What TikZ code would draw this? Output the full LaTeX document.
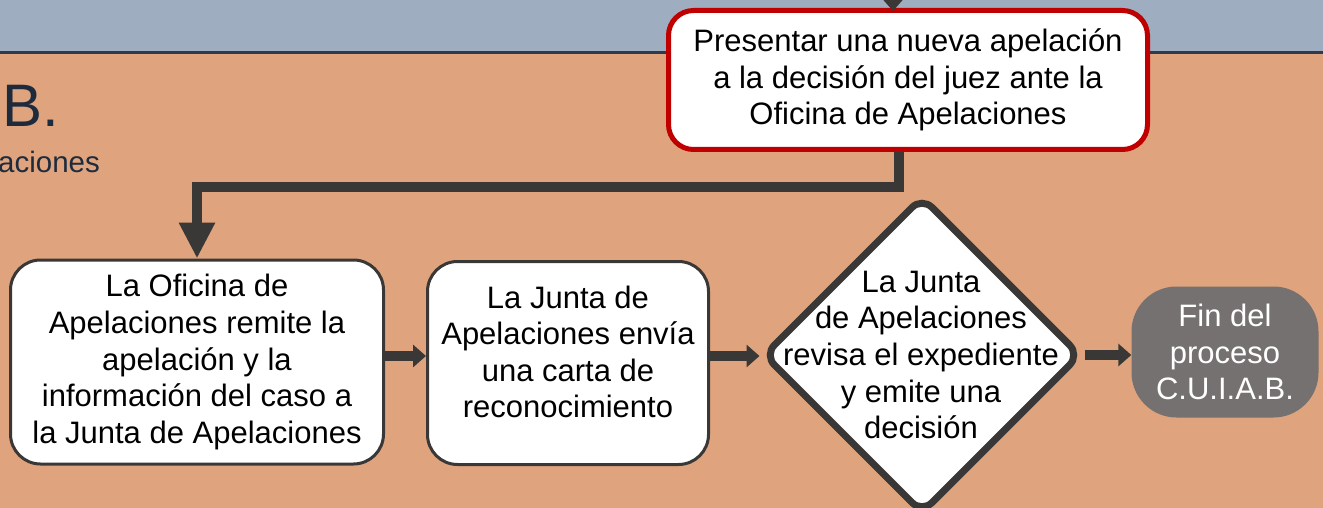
\documentclass[tikz,border=0pt]{standalone}
\usepackage{fontspec}
\setmainfont{Liberation Sans}
\usetikzlibrary{arrows.meta,shapes.geometric}

\definecolor{bandblue}{HTML}{9EADC0}
\definecolor{bandline}{HTML}{2F3B4C}
\definecolor{lanebg}{HTML}{DFA47E}
\definecolor{titletext}{HTML}{1E2B3C}
\definecolor{flowgrey}{HTML}{3A3836}
\definecolor{alertred}{HTML}{C00000}
\definecolor{endgrey}{HTML}{757170}

\newcommand{\boxfont}{\fontsize{31}{36.6}\selectfont}

\begin{document}
\begin{tikzpicture}[x=1pt,y=-1pt,
    box/.style={draw=flowgrey,line width=3pt,fill=white,rounded corners=30pt,
      align=center,font=\boxfont,inner sep=0pt},
    redbox/.style={box,draw=alertred,line width=5pt,rounded corners=25pt},
    decision/.style={diamond,draw=flowgrey,line width=7pt,fill=white,
      rounded corners=14pt,minimum width=318pt,minimum height=318pt,inner sep=0pt},
    endbox/.style={fill=endgrey,rounded corners=45pt,text=white,align=center,
      font=\boxfont,minimum width=187pt,minimum height=131pt,inner sep=0pt},
    smallflow/.style={draw=flowgrey,line width=10pt,-{Triangle[width=22pt,length=13pt]}},
    bigflow/.style={draw=flowgrey,line width=10pt,-{Triangle[width=34pt,length=36pt]}}]
  \useasboundingbox (0,0) rectangle (1323,508);

  % background lanes
  \fill[lanebg] (0,52) rectangle (1323,508);
  \fill[bandblue] (0,0) rectangle (1323,52);
  \draw[bandline,line width=3pt] (0,53) -- (1323,53);

  \node[anchor=base west,inner sep=0pt,text=titletext,font=\fontsize{60}{60}\selectfont] (lanetitle) at (2,127) {B.};
  \node[anchor=base west,inner sep=0pt,text=titletext,font=\fontsize{29.5}{30}\selectfont] (lanesub) at (-2,172) {aciones};

  % steps
  \coordinate (fromabove) at (893,-30);
  \node[redbox,minimum width=479pt,minimum height=139pt] (newappeal) at (908,80)
    {Presentar una nueva apelación\\a la decisión del juez ante la\\Oficina de Apelaciones};
  \node[box,minimum width=373pt,minimum height=204pt] (forward) at (197,362)
    {La Oficina de\\Apelaciones remite la\\apelación y la\\información del caso a\\la Junta de Apelaciones};
  \node[box,minimum width=281pt,minimum height=203pt] (acknowledge) at (568,363) {};
  \node[align=center,font=\boxfont,inner sep=0pt] (acktext) at (568,352)
    {La Junta de\\Apelaciones envía\\una carta de\\reconocimiento};
  \node[decision] (review) at (922,355) {};
  \node[align=center,font=\boxfont,inner sep=0pt] (reviewtext) at (921,355)
    {La Junta\\de Apelaciones\\revisa el expediente\\y emite una\\decisión};
  \node[endbox] (finish) at (1225,352) {Fin del\\proceso\\C.U.I.A.B.};

  % connectors
  \draw[smallflow] (fromabove) -- ([xshift=-15pt,yshift=-3pt]newappeal.north);
  \draw[bigflow] ([xshift=-9pt]newappeal.south) -- ++(0,35) -| (forward.north);
  \draw[smallflow] (forward.east |- 0,356) -- (acknowledge.west |- 0,356);
  \draw[smallflow] (acknowledge.east |- 0,356) -- (review.west |- 0,356);
  \draw[smallflow] (review.east) -- (finish.west |- review.east);
\end{tikzpicture}
\end{document}
